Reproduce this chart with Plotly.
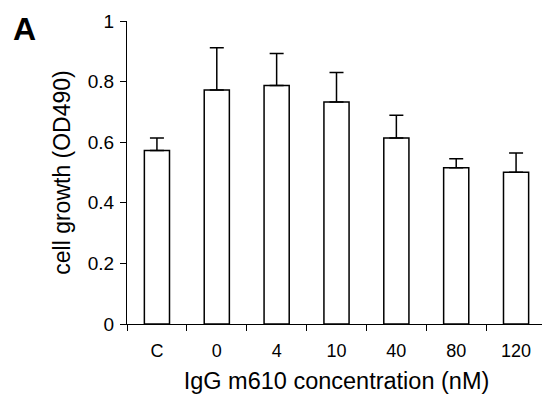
import plotly.graph_objects as go

categories = ["C", "0", "4", "10", "40", "80", "120"]
growth = [0.573, 0.772, 0.787, 0.733, 0.614, 0.516, 0.501]
sd_upper = [0.041, 0.140, 0.106, 0.097, 0.075, 0.029, 0.063]

FONT = "Liberation Sans, Arial, Helvetica, sans-serif"

fig = go.Figure()
fig.add_trace(go.Bar(
    x=categories,
    y=growth,
    marker=dict(color="white", line=dict(color="black", width=1.5)),
    error_y=dict(type="data", symmetric=False, array=sd_upper,
                 arrayminus=[0] * len(sd_upper),
                 color="black", thickness=1.5, width=7),
))

# page body has an 8px default margin, so the figure is offset by (8, 8)
fig.update_layout(
    width=542, height=390,
    margin=dict(l=119, r=4, t=13, b=74),
    paper_bgcolor="white", plot_bgcolor="white",
    bargap=0.58,
    showlegend=False,
    font=dict(family=FONT, color="black", size=18),
    xaxis=dict(
        type="category",
        tickson="boundaries",
        showline=True, linecolor="black", linewidth=1.3,
        ticks="outside", ticklen=6, tickwidth=1.3, tickcolor="black",
        showgrid=False, zeroline=False,
        tickfont=dict(size=18),
        ticklabelstandoff=10,
        title=dict(text="IgG m610 concentration (nM)", font=dict(size=23.5), standoff=12),
    ),
    yaxis=dict(
        range=[0, 1], dtick=0.2, tick0=0,
        showline=True, linecolor="black", linewidth=1.3,
        ticks="outside", ticklen=6, tickwidth=1.3, tickcolor="black",
        showgrid=False, zeroline=False,
        tickfont=dict(size=19),
        ticklabelstandoff=2,
        title=dict(text="cell growth (OD490)", font=dict(size=23), standoff=10),
    ),
    annotations=[dict(
        text="<b>A</b>", xref="paper", yref="paper",
        x=-0.2446, y=1.040, xanchor="center", yanchor="top",
        showarrow=False, font=dict(size=32, family=FONT, color="black"),
    )],
)

fig.write_html("out.html")
